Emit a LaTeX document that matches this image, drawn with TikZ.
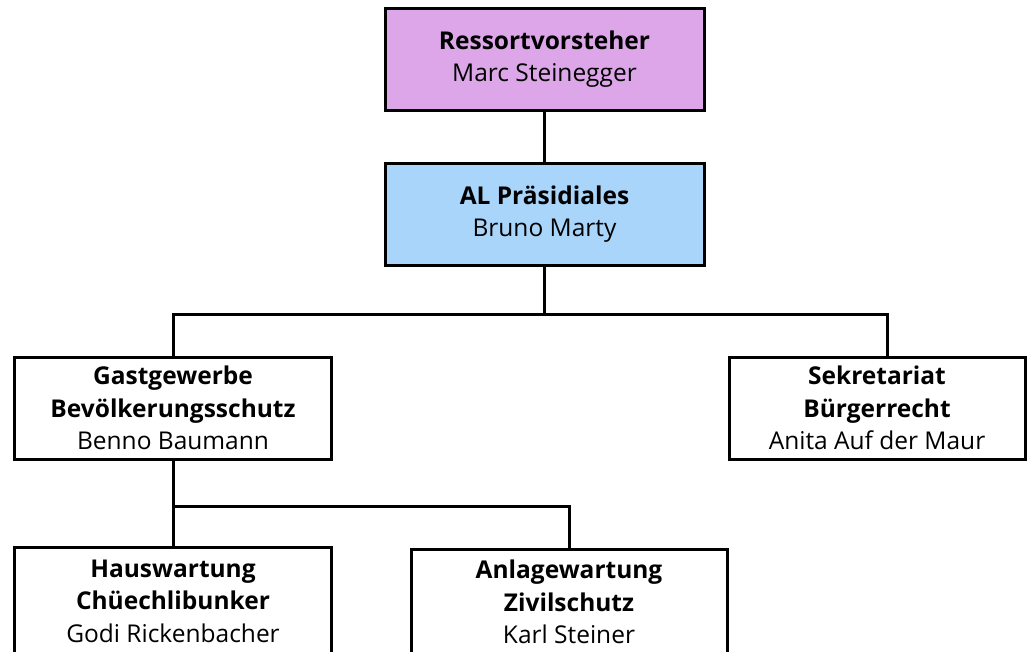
\documentclass[tikz,border=0pt]{standalone}
\usepackage{xcolor}
\usepackage{fontspec}
\setmainfont{Open Sans}
\usepackage{tikz}

\definecolor{ressortcol}{RGB}{220,166,232}
\definecolor{alcol}{RGB}{170,213,250}

\begin{document}
\begin{tikzpicture}[x=1pt,y=1pt,yscale=-1,xscale=1,
  orgbox/.style={draw, line width=3pt, rectangle, inner sep=0pt, minimum height=102pt, align=center, font=\fontsize{24.5}{32.5}\selectfont},
  orgline/.style={line width=3pt, line join=miter}]
\useasboundingbox (0,0) rectangle (1027,651);
\clip (0,0) rectangle (1027,651);
%Boxes
\node (ressort) at (544.5,59) [orgbox, fill=ressortcol, minimum width=319pt] {\textbf{Ressortvorsteher}\\Marc Steinegger};
\node (al) at (544.5,214) [orgbox, fill=alcol, minimum width=319pt] {\textbf{AL Präsidiales}\\Bruno Marty};
\node (gast) at (173,408) [orgbox, fill=white, minimum width=317pt] {\textbf{Gastgewerbe}\\\textbf{Bevölkerungsschutz}\\Benno Baumann};
\node (sek) at (877,408) [orgbox, fill=white, minimum width=296pt] {\textbf{Sekretariat}\\\textbf{Bürgerrecht}\\Anita Auf der Maur};
\node (haus) at (173,601) [orgbox, fill=white, minimum width=317pt, minimum height=108pt] {\textbf{Hauswartung}\\\textbf{Chüechlibunker}\\Godi Rickenbacher};
\node (anlage) at (569,602) [orgbox, fill=white, minimum width=316pt, minimum height=106pt] {\textbf{Anlagewartung}\\\textbf{Zivilschutz}\\Karl Steiner};
%Lines
\coordinate (bus1) at (544.5,314);
\coordinate (sekin) at (887,357);
\coordinate (bus2) at (173,506);
\draw [orgline] (ressort) -- (al);
\draw [orgline] (al.south) -- (bus1) -| (gast.north);
\draw [orgline] (bus1) -| (sekin);
\draw [orgline] (gast.south) -- (haus.north);
\draw [orgline] (bus2) -| (anlage.north);
\end{tikzpicture}
\end{document}
